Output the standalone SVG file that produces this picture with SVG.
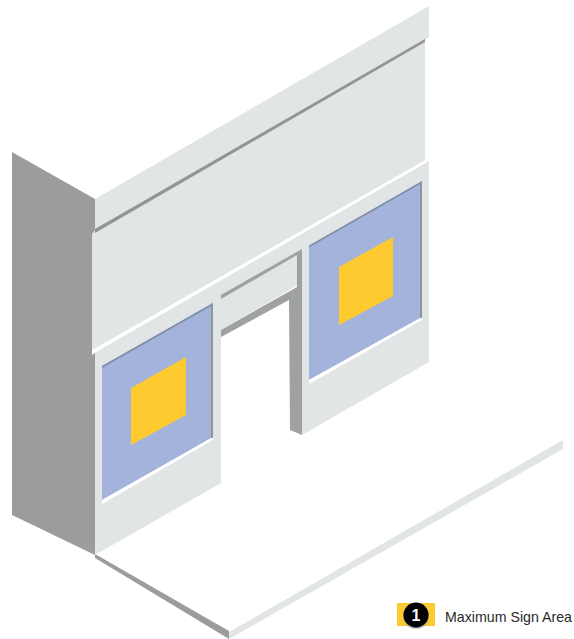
<svg xmlns="http://www.w3.org/2000/svg" width="574" height="639" viewBox="0 0 574 639">
<style>
.wall{fill:#e2e5e5}
.shade{fill:#9c9c9a}
.jamb{fill:#a0a1a1}
.glass{fill:#a3b3db}
.sign{fill:#fdca2f}
.hi{fill:#fff}
.edge{fill:#7f8fa8}
.line{fill:#929594}
text{font-family:"Liberation Sans",Arial,sans-serif}
</style>
<rect width="574" height="639" fill="#fff"/>
<g id="ground">
<polygon class="shade" points="95,554 229,631 229,639 95,558"/>
<polygon class="wall" points="229,632 563,440 563,449 229,639"/>
</g>
<g id="side-wall">
<polygon class="shade" points="12,152 95,199 95,555 12,515"/>
</g>
<g id="facade">
<polygon class="wall" points="95,199 429,6 429,37 425,40 425,160 429,158 429,362 302,435 302,250 221,296 221,483 95,555 95,352 92,352 92,234 95,230"/>
<polygon class="line" points="95,229 425,39 425,42 95,233"/>
<polygon class="hi" points="92,350 429,158 429,161 96,352 92,355"/>
</g>
<g id="door">
<polygon class="wall" points="221,298 298,254 298,285 221,330"/>
<polygon class="jamb" points="221,295 302,249 302,435 290,430 289,300 221,337 221,330 290,291 297,287 297,255 221,299"/>
</g>
<g id="window-left">
<polygon class="glass" points="102,366 213,303 213,438 102,500"/>
<polygon class="edge" points="102,366 213,303 213,305 102,368"/>
<polygon class="line" points="211,304 213,303 213,438 211,439"/>
<polygon class="hi" points="102,500 211,438 213,438 213,440 102,504"/>
<polygon class="sign" points="131,388 186,357 186,415 131,445"/>
</g>
<g id="window-right">
<polygon class="glass" points="309,247 422,182 422,318 309,380"/>
<polygon class="edge" points="309,245.500 422,181 422,183 309,247.500"/>
<polygon class="line" points="420,183 422,182 422,318 420,319"/>
<polygon class="hi" points="309,380 420,318 422,318 422,320 309,384"/>
<polygon class="sign" points="339,267 393,237 393,296 339,325"/>
</g>
<g id="legend">
<rect class="sign" x="397" y="603" width="38" height="23"/>
<circle cx="416" cy="616" r="13" fill="#8d8d8d" opacity="0.6"/>
<circle cx="416" cy="615" r="12.5" fill="#000"/>
<text x="416" y="621" font-size="16" font-weight="bold" fill="#fff" text-anchor="middle">1</text>
<text x="445" y="622" font-size="14.200" fill="#2a2a2a">Maximum Sign Area</text>
</g>
</svg>
